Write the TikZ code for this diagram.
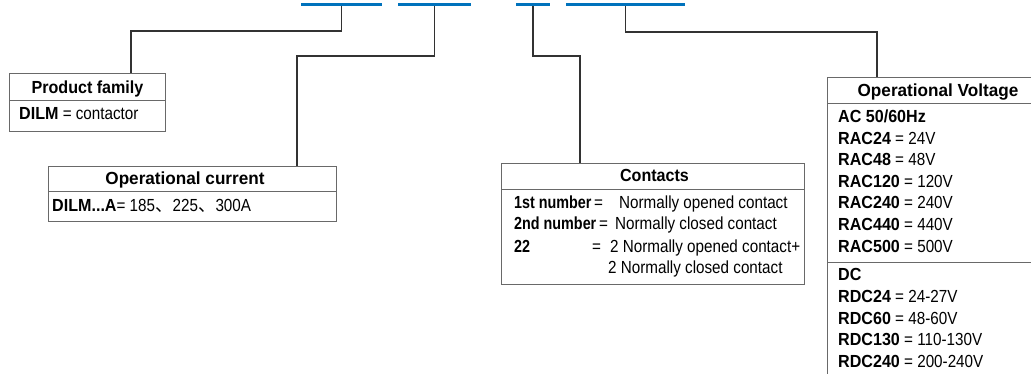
\documentclass[tikz,border=0pt]{standalone}
\usepackage{fontspec}
\setmainfont{Liberation Sans}[FakeStretch=0.87, BoldFeatures={FakeStretch=0.92}]
\newfontfamily\keyfont{Liberation Sans Bold}[FakeStretch=0.82]
\newfontfamily\wideheadfont{Liberation Sans Bold}[FakeStretch=0.98]
\newfontfamily\cjk{Noto Sans CJK SC}
\definecolor{codeblue}{RGB}{0,114,188}
\definecolor{linegray}{RGB}{50,50,50}
\definecolor{boxgray}{RGB}{105,105,105}

\tikzset{
  box/.style={draw=boxgray, line width=1pt, inner sep=0pt},
  conn/.style={draw=linegray, line width=1.2pt},
  code/.style={draw=codeblue, line width=3pt},
  txt/.style={inner sep=0pt, text height=12.6pt, text depth=0pt, font=\fontsize{17.5}{21.75}\selectfont},
  head/.style={txt, font=\fontsize{17.5}{21.75}\selectfont\bfseries},
  widehead/.style={txt, font=\fontsize{17.5}{21.75}\selectfont\wideheadfont},
  row/.style={txt, anchor=west},
}

\begin{document}
\begin{tikzpicture}[x=1pt, y=1pt]
    % Canvas
    \path[use as bounding box, clip] (0,0) rectangle (1031,-373);

    % Boxes
    \node[box, anchor=north west, minimum width=156pt, minimum height=58pt] (famBox) at (9,-73) {};
    \node[box, anchor=north west, minimum width=288pt, minimum height=55pt] (curBox) at (48,-166) {};
    \node[box, anchor=north west, minimum width=303pt, minimum height=121pt] (conBox) at (501,-163) {};
    \node[box, anchor=north west, minimum width=222pt, minimum height=320pt] (volBox) at (827,-77) {};

    % Dividers under the headers
    \draw[box] (famBox.west |- 0,-100) -- (famBox.east |- 0,-100);
    \draw[box] (curBox.west |- 0,-191) -- (curBox.east |- 0,-191);
    \draw[box] (conBox.west |- 0,-189) -- (conBox.east |- 0,-189);
    \draw[box] (volBox.west |- 0,-103) -- (volBox.east |- 0,-103);
    \draw[box] (volBox.west |- 0,-262) -- (volBox.east |- 0,-262); % AC / DC

    % Underlines of the type code (taps in the middle)
    \path (301,-4.2) -- coordinate (tapFam) (382,-4.2);
    \path (398,-4.2) -- coordinate (tapCur) (471,-4.2);
    \path (516,-4.2) -- coordinate (tapCon) (550,-4.2);
    \path (566,-4.2) -- coordinate (tapVol) (685,-4.2);

    % Connectors
    \coordinate (bendFam) at (131,-31);
    \coordinate (bendCur) at (297,-56);
    \coordinate (bendCon) at (580,-56);
    \coordinate (bendVol) at (877,-32);
    \draw[conn] (tapFam) |- (bendFam) -- (bendFam |- famBox.north);
    \draw[conn] (tapCur) |- (bendCur) -- (bendCur |- curBox.north);
    \draw[conn] (tapCon) |- (bendCon) -- (bendCon |- conBox.north);
    \draw[conn] (tapVol) |- (bendVol) -- (bendVol |- volBox.north);

    \draw[code] (301,-4.2) -- (382,-4.2);
    \draw[code] (398,-4.2) -- (471,-4.2);
    \draw[code] (516,-4.2) -- (550,-4.2);
    \draw[code] (566,-4.2) -- (685,-4.2);

    % Product family
    \node[head] (famHead) at (famBox.north |- 0,-86.7) {Product family};
    \node[row] (famDilm) at (19,-113.3) {\textbf{DILM} = contactor};

    % Operational current
    \node[widehead] (curHead) at (185,-178.3) {Operational current};
    \node[row] (curDilm) at (52,-205) {\textbf{DILM...A}= 185{\cjk 、}225{\cjk 、}300A};

    % Contacts
    \node[head] (conHead) at (654.5,-175.5) {Contacts};
    \node[row] (conKey1) at (514,-202.5) {\keyfont 1st number};
    \node[row] (conEq1) at (594,-202.5) {=};
    \node[row] (conVal1) at (619,-202.5) {Normally opened contact};
    \node[row] (conKey2) at (514,-223.3) {\keyfont 2nd number};
    \node[row] (conEq2) at (599,-223.3) {=};
    \node[row] (conVal2) at (615,-223.3) {Normally closed contact};
    \node[row] (conKey3) at (514,-245.8) {\keyfont 22};
    \node[row] (conEq3) at (592,-245.8) {=};
    \node[row] (conVal3) at (610,-245.8) {2 Normally opened contact+};
    \node[row] (conVal4) at (608,-267.5) {2 Normally closed contact};

    % Operational voltage
    \node[widehead] (volHead) at (938,-90.3) {Operational Voltage};
    \node[row] (volAC) at (838,-115.8) {\textbf{AC 50/60Hz}};
    \node[row] (volRAC24) at (838,-137.7) {\textbf{RAC24} = 24V};
    \node[row] (volRAC48) at (838,-159.2) {\textbf{RAC48} = 48V};
    \node[row] (volRAC120) at (838,-180.8) {\textbf{RAC120} = 120V};
    \node[row] (volRAC240) at (838,-202.6) {\textbf{RAC240} = 240V};
    \node[row] (volRAC440) at (838,-224.4) {\textbf{RAC440} = 440V};
    \node[row] (volRAC500) at (838,-246.2) {\textbf{RAC500} = 500V};
    \node[row] (volDC) at (838,-274.2) {\textbf{DC}};
    \node[row] (volRDC24) at (838,-296) {\textbf{RDC24} = 24-27V};
    \node[row] (volRDC60) at (838,-317.7) {\textbf{RDC60} = 48-60V};
    \node[row] (volRDC130) at (838,-339.4) {\textbf{RDC130} = 110-130V};
    \node[row] (volRDC240) at (838,-361.1) {\textbf{RDC240} = 200-240V};
\end{tikzpicture}
\end{document}
